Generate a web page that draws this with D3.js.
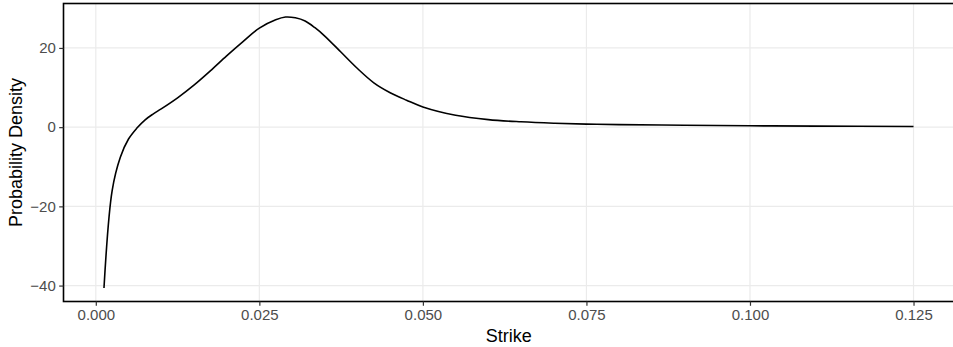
<!DOCTYPE html>
<html>
<head>
<meta charset="utf-8">
<script src="https://cdn.jsdelivr.net/npm/d3@7"></script>
<style>
  html, body { margin: 0; padding: 0; background: #fff; }
  svg text { font-family: "Liberation Sans", Arial, Helvetica, sans-serif; }
</style>
</head>
<body>
<div id="chart"></div>
<script>
// values
var strikes = [0.00125, 0.0025, 0.00375, 0.005, 0.00625, 0.0075, 0.00875, 0.01, 0.0125, 0.015, 0.0175,
               0.02, 0.0225, 0.025, 0.0275, 0.029, 0.0305, 0.032, 0.0335, 0.035, 0.0375, 0.04,
               0.0425, 0.045, 0.0475, 0.05, 0.055, 0.06, 0.065, 0.07, 0.075, 0.08,
               0.09, 0.1, 0.11, 0.125];
var density = [-40.6, -16.0, -7.6, -3.0, -0.3, 1.8, 3.3, 4.6, 7.4, 10.6, 14.2,
               18.0, 21.6, 25.0, 27.1, 27.8, 27.6, 26.8, 25.1, 23.0, 18.9, 14.8,
               11.2, 8.7, 6.8, 5.1, 3.0, 1.9, 1.35, 1.0, 0.77, 0.65,
               0.48, 0.35, 0.27, 0.18];
var xTicks = [0, 0.025, 0.05, 0.075, 0.1, 0.125];
var yTicks = [-40, -20, 0, 20];
var xTitle = "Strike", yTitle = "Probability Density";

var W = 953, H = 347;
var margin = {top: 3.5, right: -1, bottom: 45.5, left: 63.5};

var data = strikes.map(function(s, i){ return {k: s, d: density[i]}; });

function expand(ext){ var p = (ext[1]-ext[0])*0.05; return [ext[0]-p, ext[1]+p]; }

var svg = d3.select("#chart").append("svg")
    .attr("width", W).attr("height", H);

var x = d3.scaleLinear()
    .domain(expand(d3.extent(data, function(d){ return d.k; })))
    .range([margin.left, W - margin.right]);
var y = d3.scaleLinear()
    .domain(expand(d3.extent(data, function(d){ return d.d; })))
    .range([H - margin.bottom, margin.top]);

var x0 = margin.left, x1 = W - margin.right, y0 = margin.top, y1 = H - margin.bottom;

// grid
svg.append("g").selectAll("line").data(xTicks).enter().append("line")
    .attr("x1", function(d){ return x(d); }).attr("x2", function(d){ return x(d); })
    .attr("y1", y0).attr("y2", y1)
    .attr("stroke", "#ebebeb").attr("stroke-width", 1.2);
svg.append("g").selectAll("line").data(yTicks).enter().append("line")
    .attr("y1", function(d){ return y(d); }).attr("y2", function(d){ return y(d); })
    .attr("x1", x0).attr("x2", x1)
    .attr("stroke", "#ebebeb").attr("stroke-width", 1.2);

// curve
var line = d3.line()
    .x(function(d){ return x(d.k); })
    .y(function(d){ return y(d.d); })
    .curve(d3.curveCatmullRom.alpha(0.5));

svg.append("path").datum(data)
    .attr("d", line)
    .attr("fill", "none")
    .attr("stroke", "#000")
    .attr("stroke-width", 1.6);

// panel border
svg.append("rect")
    .attr("x", x0).attr("y", y0)
    .attr("width", x1 - x0).attr("height", y1 - y0)
    .attr("fill", "none").attr("stroke", "#000").attr("stroke-width", 1.6);

// axes
var xAxis = d3.axisBottom(x).tickValues(xTicks).tickFormat(d3.format(".3f"))
    .tickSizeInner(4.3).tickSizeOuter(0).tickPadding(3.4);
var yAxis = d3.axisLeft(y).tickValues(yTicks).tickFormat(function(d){ return d < 0 ? "\u2212" + Math.abs(d) : d; })
    .tickSizeInner(4.3).tickSizeOuter(0).tickPadding(3.4);

var gx = svg.append("g").attr("transform", "translate(0," + y1 + ")").call(xAxis);
var gy = svg.append("g").attr("transform", "translate(" + x0 + ",0)").call(yAxis);
[gx, gy].forEach(function(g){
  g.select(".domain").remove();
  g.selectAll(".tick line").attr("stroke", "#333").attr("stroke-width", 1.2);
  g.selectAll(".tick text").attr("fill", "#4d4d4d").style("font-size", "15px");
});

svg.append("text")
    .attr("x", (x0 + x1) / 2).attr("y", 342)
    .attr("text-anchor", "middle")
    .style("font-size", "18px").attr("fill", "#000")
    .text(xTitle);

svg.append("text")
    .attr("transform", "translate(22," + ((y0 + y1) / 2) + ") rotate(-90)")
    .attr("text-anchor", "middle")
    .style("font-size", "18px").attr("fill", "#000")
    .text(yTitle);
</script>
</body>
</html>
